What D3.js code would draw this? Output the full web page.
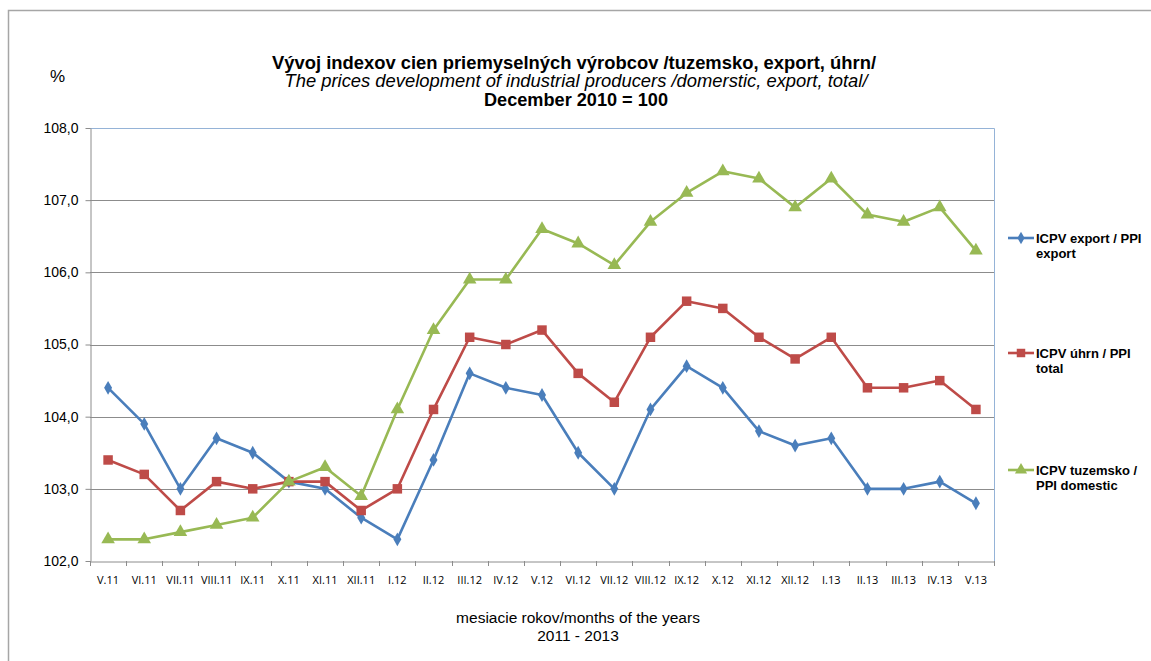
<html>
  <head>
    <meta charset="utf-8">
    <script src="https://d3js.org/d3.v7.min.js"></script>
    <style>
      body { margin: 0; background: #fff; }
      svg { font-family: "Liberation Sans", Arial, sans-serif; }
    </style>
  </head>
  <body>
    <svg class="chart"></svg>
  </body>
  <script>
  const months = ['V.11','VI.11','VII.11','VIII.11','IX.11','X.11','XI.11','XII.11','I.12','II.12','III.12','IV.12',
    'V.12','VI.12','VII.12','VIII.12','IX.12','X.12','XI.12','XII.12','I.13','II.13','III.13','IV.13','V.13'];
  const exportVals = [104.4,103.9,103.0,103.7,103.5,103.1,103.0,102.6,102.3,103.4,104.6,104.4,
    104.3,103.5,103.0,104.1,104.7,104.4,103.8,103.6,103.7,103.0,103.0,103.1,102.8];
  const totalVals = [103.4,103.2,102.7,103.1,103.0,103.1,103.1,102.7,103.0,104.1,105.1,105.0,
    105.2,104.6,104.2,105.1,105.6,105.5,105.1,104.8,105.1,104.4,104.4,104.5,104.1];
  const domesticVals = [102.3,102.3,102.4,102.5,102.6,103.1,103.3,102.9,104.1,105.2,105.9,105.9,
    106.6,106.4,106.1,106.7,107.1,107.4,107.3,106.9,107.3,106.8,106.7,106.9,106.3];
  const yTicks = [102,103,104,105,106,107,108];
  const seriesNames = [['ICPV export / PPI','export'], ['ICPV úhrn / PPI','total'], ['ICPV tuzemsko /','PPI domestic']];

  function drawChart(){
    let width = 1151, height = 661;
    let margin = {top:128, bottom:100, left:90, right:157};

    let svg = d3.select('.chart')
      .attr('width', width)
      .attr('height', height);

    // outer frame (only top & left visible)
    svg.append('path')
      .attr('d', `M8.5,${height} L8.5,10.5 L${width},10.5`)
      .attr('fill','none').attr('stroke','#a6a6a6').attr('stroke-width',1.5);

    let x = d3.scaleBand().domain(months).range([margin.left, width - margin.right]);
    let y = d3.scaleLinear().domain([102,108]).range([height - margin.bottom, margin.top]);

    // grid
    svg.append('g').selectAll('line')
      .data(yTicks.slice(1))
      .join('line')
        .attr('x1', margin.left).attr('x2', width - margin.right)
        .attr('y1', d=>Math.round(y(d))+0.5).attr('y2', d=>Math.round(y(d))+0.5)
        .attr('stroke','#8c8c8c').attr('stroke-width',1);

    // plot border right/top
    svg.append('path')
      .attr('d', `M${margin.left},${Math.round(y(108))+0.5} L${width-margin.right+0.5},${Math.round(y(108))+0.5} L${width-margin.right+0.5},${height-margin.bottom}`)
      .attr('fill','none').attr('stroke','#95b3d7').attr('stroke-width',1);

    // y axis
    let yAxis = svg.append('g')
      .attr('transform', `translate(${margin.left+0.5},0)`)
      .call(d3.axisLeft(y).tickValues(yTicks).tickSize(5).tickSizeOuter(0)
        .tickFormat(d=>d3.format('.1f')(d).replace('.', ',')));
    yAxis.select('.domain').attr('stroke','#8c8c8c');
    yAxis.selectAll('.tick line').attr('stroke','#8c8c8c');
    yAxis.selectAll('.tick text').attr('font-size',14).attr('fill','#000')
      .attr('font-family','"Liberation Sans", Arial, sans-serif').attr('x',-12);

    // x axis
    let xAxis = svg.append('g')
      .attr('transform', `translate(0,${height - margin.bottom + 0.5})`)
      .call(d3.axisBottom(x).tickSize(0).tickSizeOuter(0));
    xAxis.select('.domain').attr('stroke','#8c8c8c');
    xAxis.selectAll('.tick text').attr('font-size',11).attr('fill','#000')
      .attr('font-family','"Open Sans", Calibri, sans-serif').attr('dy','1.8em');
    // ticks between categories
    svg.append('g').selectAll('line')
      .data(months)
      .join('line')
        .attr('x1', d=>Math.round(x(d))+0.5).attr('x2', d=>Math.round(x(d))+0.5)
        .attr('y1', height - margin.bottom).attr('y2', height - margin.bottom + 5)
        .attr('stroke','#8c8c8c');
    svg.append('line')
      .attr('x1', width-margin.right+0.5).attr('x2', width-margin.right+0.5)
      .attr('y1', height - margin.bottom).attr('y2', height - margin.bottom + 5)
      .attr('stroke','#8c8c8c');

    let series = [
      {vals: exportVals, color:'#4a7ebb', shape: d3.symbolDiamond, size: 55},
      {vals: totalVals, color:'#be4b48', shape: d3.symbolSquare, size: 90},
      {vals: domesticVals, color:'#98b954', shape: d3.symbolTriangle, size: 80}
    ];
    let cx = m => x(m) + x.bandwidth()/2;
    let line = d3.line().x((d,i)=>cx(months[i])).y(d=>y(d));

    series.forEach(s=>{
      svg.append('path').datum(s.vals)
        .attr('d', line)
        .attr('fill','none').attr('stroke', s.color).attr('stroke-width',2.6)
        .attr('stroke-linejoin','round');
      svg.append('g').selectAll('path')
        .data(s.vals)
        .join('path')
          .attr('d', d3.symbol().type(s.shape).size(s.size))
          .attr('transform', (d,i)=>`translate(${cx(months[i])},${y(d)})`)
          .attr('fill', s.color);
    });

    // legend
    let legendY = [238, 353, 470];
    series.forEach((s,i)=>{
      let g = svg.append('g').attr('transform', `translate(1008,${legendY[i]})`);
      g.append('line').attr('x1',0).attr('x2',26).attr('y1',0).attr('y2',0)
        .attr('stroke', s.color).attr('stroke-width',2.6);
      g.append('path').attr('d', d3.symbol().type(s.shape).size(s.size*0.8))
        .attr('transform','translate(13,0)').attr('fill', s.color);
      let t = g.append('text').attr('x',28).attr('y',5).attr('font-size',13)
        .attr('font-weight','bold').attr('fill','#000');
      t.append('tspan').text(seriesNames[i][0]);
      t.append('tspan').attr('x',28).attr('dy',15).text(seriesNames[i][1]);
    });

    // titles
    let titles = [
      {text:'Vývoj indexov cien priemyselných výrobcov /tuzemsko, export, úhrn/', y:69, w:604, bold:true, italic:false, cx:574},
      {text:'The prices development of industrial producers /domerstic, export, total/', y:87, w:583, bold:false, italic:true, cx:576},
      {text:'December 2010 = 100', y:106, w:184, bold:true, italic:false, cx:576}
    ];
    titles.forEach(t=>{
      svg.append('text').attr('x',t.cx - t.w/2).attr('y',t.y)
        .attr('font-size',17.5)
        .attr('font-weight', t.bold ? 'bold' : 'normal')
        .attr('font-style', t.italic ? 'italic' : 'normal')
        .attr('textLength', t.w).attr('lengthAdjust','spacingAndGlyphs')
        .text(t.text);
    });
    svg.append('text').attr('x',50).attr('y',82).attr('font-size',17).text('%');

    svg.append('text').attr('x',578).attr('y',623).attr('text-anchor','middle')
      .attr('font-size',15.5).text('mesiacie rokov/months of the years');
    svg.append('text').attr('x',578).attr('y',641).attr('text-anchor','middle')
      .attr('font-size',15.5).text('2011 - 2013');
  }

  drawChart();
  </script>
</html>
